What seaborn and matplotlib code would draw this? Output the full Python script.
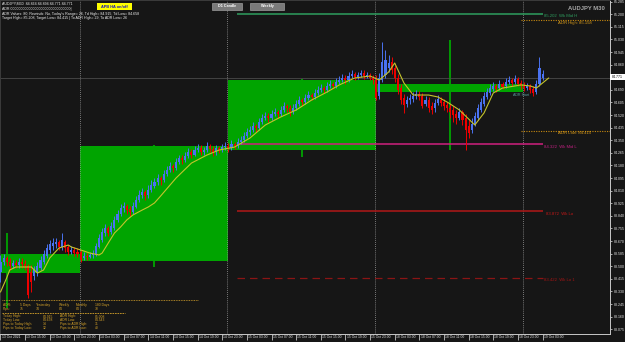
import numpy as np
import pandas as pd
import matplotlib
matplotlib.use("Agg")
import matplotlib.pyplot as plt
from matplotlib.patches import Rectangle
from matplotlib.transforms import ScaledTranslation
import seaborn as sns

# ---------------- data (AUDJPY M30, bar index 0 = 13 Oct 11:00) ----------------
bar_open = [
    83.461, 83.529, 83.556, 83.529, 83.502, 83.522, 83.508, 83.529, 83.515, 83.502,
    83.461, 83.434, 83.461, 83.488, 83.529, 83.569, 83.610, 83.636, 83.650, 83.663,
    83.630, 83.663, 83.630, 83.596, 83.610, 83.596, 83.596, 83.556, 83.569, 83.562,
    83.576, 83.576, 83.630, 83.677, 83.724, 83.758, 83.731, 83.758, 83.812, 83.852,
    83.893, 83.906, 83.886, 83.866, 83.900, 83.947, 83.981, 84.001, 83.981, 84.014,
    84.041, 84.068, 84.095, 84.082, 84.122, 84.149, 84.176, 84.163, 84.203, 84.230,
    84.217, 84.244, 84.271, 84.250, 84.284, 84.298, 84.271, 84.284, 84.311, 84.291,
    84.271, 84.298, 84.284, 84.304, 84.311, 84.298, 84.325, 84.311, 84.338, 84.352,
    84.379, 84.406, 84.419, 84.446, 84.433, 84.473, 84.500, 84.513, 84.500, 84.527,
    84.540, 84.527, 84.554, 84.581, 84.567, 84.540, 84.567, 84.594, 84.621, 84.608,
    84.635, 84.655, 84.642, 84.669, 84.689, 84.702, 84.689, 84.716, 84.729, 84.716,
    84.743, 84.756, 84.770, 84.756, 84.783, 84.797, 84.777, 84.790, 84.804, 84.783,
    84.790, 84.770, 84.756, 84.648, 84.756, 84.790, 84.837, 84.878, 84.837, 84.770,
    84.702, 84.635, 84.594, 84.621, 84.628, 84.648, 84.662, 84.648, 84.594, 84.621,
    84.581, 84.567, 84.601, 84.621, 84.608, 84.588, 84.567, 84.554, 84.527, 84.500,
    84.540, 84.500, 84.446, 84.419, 84.459, 84.500, 84.554, 84.594, 84.642, 84.669,
    84.696, 84.716, 84.702, 84.729, 84.716, 84.743, 84.756, 84.743, 84.763, 84.736,
    84.716, 84.702, 84.716, 84.696, 84.675, 84.729, 84.770]
bar_close = [
    83.529, 83.556, 83.529, 83.502, 83.522, 83.508, 83.529, 83.515, 83.502, 83.306,
    83.394, 83.475, 83.502, 83.542, 83.583, 83.623, 83.650, 83.657, 83.663, 83.630,
    83.677, 83.623, 83.596, 83.610, 83.589, 83.583, 83.542, 83.569, 83.562, 83.576,
    83.583, 83.636, 83.690, 83.731, 83.758, 83.724, 83.771, 83.812, 83.852, 83.893,
    83.906, 83.879, 83.866, 83.906, 83.947, 83.981, 84.001, 83.974, 84.014, 84.048,
    84.068, 84.095, 84.082, 84.122, 84.149, 84.176, 84.163, 84.203, 84.230, 84.217,
    84.244, 84.271, 84.250, 84.284, 84.298, 84.271, 84.284, 84.311, 84.291, 84.264,
    84.298, 84.284, 84.304, 84.311, 84.298, 84.325, 84.311, 84.338, 84.352, 84.379,
    84.406, 84.419, 84.446, 84.433, 84.473, 84.500, 84.513, 84.500, 84.527, 84.540,
    84.527, 84.554, 84.581, 84.567, 84.540, 84.567, 84.594, 84.621, 84.608, 84.635,
    84.655, 84.642, 84.669, 84.689, 84.702, 84.689, 84.716, 84.729, 84.716, 84.743,
    84.756, 84.770, 84.756, 84.783, 84.797, 84.777, 84.790, 84.804, 84.783, 84.790,
    84.770, 84.756, 84.635, 84.770, 84.878, 84.891, 84.871, 84.824, 84.770, 84.689,
    84.621, 84.588, 84.621, 84.635, 84.648, 84.662, 84.642, 84.581, 84.621, 84.567,
    84.554, 84.601, 84.628, 84.601, 84.581, 84.567, 84.540, 84.520, 84.500, 84.540,
    84.486, 84.419, 84.399, 84.459, 84.513, 84.567, 84.608, 84.648, 84.675, 84.702,
    84.716, 84.696, 84.729, 84.709, 84.743, 84.756, 84.736, 84.763, 84.729, 84.716,
    84.702, 84.716, 84.689, 84.669, 84.729, 84.837, 84.797]
bar_high = [
    83.576, 83.583, 83.569, 83.556, 83.542, 83.542, 83.556, 83.556, 83.542, 83.515,
    83.508, 83.502, 83.529, 83.569, 83.610, 83.650, 83.677, 83.690, 83.690, 83.677,
    83.724, 83.677, 83.643, 83.636, 83.630, 83.623, 83.610, 83.596, 83.589, 83.596,
    83.610, 83.657, 83.717, 83.758, 83.785, 83.771, 83.798, 83.839, 83.879, 83.920,
    83.933, 83.920, 83.906, 83.933, 83.974, 84.014, 84.028, 84.014, 84.048, 84.082,
    84.095, 84.122, 84.109, 84.149, 84.176, 84.203, 84.190, 84.230, 84.250, 84.250,
    84.271, 84.298, 84.291, 84.311, 84.325, 84.318, 84.304, 84.338, 84.325, 84.311,
    84.318, 84.311, 84.325, 84.338, 84.331, 84.352, 84.338, 84.365, 84.379, 84.406,
    84.433, 84.446, 84.473, 84.459, 84.500, 84.527, 84.540, 84.534, 84.554, 84.567,
    84.554, 84.581, 84.608, 84.594, 84.588, 84.594, 84.621, 84.648, 84.635, 84.662,
    84.682, 84.669, 84.696, 84.716, 84.729, 84.716, 84.743, 84.756, 84.743, 84.770,
    84.783, 84.797, 84.790, 84.810, 84.824, 84.810, 84.810, 84.824, 84.824, 84.810,
    84.804, 84.790, 84.790, 84.804, 85.013, 84.959, 84.925, 84.912, 84.858, 84.797,
    84.729, 84.662, 84.648, 84.662, 84.675, 84.689, 84.682, 84.669, 84.648, 84.642,
    84.608, 84.628, 84.655, 84.642, 84.628, 84.608, 84.594, 84.581, 84.554, 84.567,
    84.554, 84.527, 84.486, 84.500, 84.540, 84.594, 84.635, 84.675, 84.702, 84.729,
    84.743, 84.729, 84.756, 84.743, 84.770, 84.783, 84.770, 84.790, 84.777, 84.756,
    84.743, 84.736, 84.729, 84.716, 84.756, 84.912, 84.824]
bar_low = [
    83.394, 83.508, 83.502, 83.475, 83.488, 83.488, 83.488, 83.488, 83.475, 83.286,
    83.326, 83.407, 83.434, 83.475, 83.515, 83.556, 83.589, 83.610, 83.623, 83.610,
    83.610, 83.596, 83.576, 83.583, 83.569, 83.562, 83.529, 83.542, 83.542, 83.556,
    83.556, 83.569, 83.623, 83.663, 83.704, 83.704, 83.717, 83.744, 83.798, 83.839,
    83.866, 83.852, 83.839, 83.852, 83.893, 83.933, 83.960, 83.947, 83.960, 84.001,
    84.028, 84.048, 84.048, 84.068, 84.109, 84.136, 84.136, 84.149, 84.190, 84.190,
    84.203, 84.230, 84.230, 84.244, 84.271, 84.250, 84.250, 84.271, 84.271, 84.244,
    84.250, 84.264, 84.271, 84.284, 84.271, 84.284, 84.291, 84.298, 84.325, 84.338,
    84.365, 84.385, 84.406, 84.406, 84.419, 84.459, 84.486, 84.473, 84.486, 84.513,
    84.500, 84.513, 84.540, 84.540, 84.513, 84.527, 84.554, 84.581, 84.581, 84.594,
    84.621, 84.621, 84.628, 84.655, 84.675, 84.669, 84.675, 84.702, 84.696, 84.702,
    84.729, 84.743, 84.729, 84.743, 84.770, 84.756, 84.763, 84.777, 84.763, 84.770,
    84.756, 84.729, 84.621, 84.628, 84.743, 84.770, 84.810, 84.797, 84.743, 84.662,
    84.594, 84.534, 84.574, 84.594, 84.608, 84.628, 84.621, 84.567, 84.581, 84.540,
    84.527, 84.540, 84.588, 84.581, 84.554, 84.540, 84.500, 84.473, 84.459, 84.486,
    84.453, 84.284, 84.365, 84.399, 84.446, 84.486, 84.540, 84.581, 84.628, 84.655,
    84.682, 84.675, 84.689, 84.696, 84.702, 84.729, 84.716, 84.729, 84.716, 84.696,
    84.682, 84.689, 84.669, 84.648, 84.662, 84.716, 84.756]

# smoothed moving average (yellow), read at selected bars
ma_bar = [0, 2, 3, 5, 10, 12, 14, 16, 19, 22, 23, 26, 29, 32, 33, 35, 37, 39, 41, 43,
          46, 48, 50, 52, 57, 62, 67, 71, 76, 81, 86, 91, 96, 101, 106, 110, 115, 120,
          123, 126, 128, 131, 134, 139, 142, 145, 149, 154, 157, 160, 163, 169, 172, 174, 178]
ma_val = [83.326, 83.421, 83.475, 83.495, 83.495, 83.454, 83.475, 83.556, 83.623, 83.643,
          83.630, 83.610, 83.589, 83.576, 83.589, 83.657, 83.724, 83.765, 83.812, 83.846,
          83.879, 83.900, 83.927, 83.974, 84.095, 84.196, 84.250, 84.284, 84.304, 84.365,
          84.453, 84.507, 84.554, 84.621, 84.675, 84.723, 84.770, 84.783, 84.756, 84.810,
          84.871, 84.736, 84.655, 84.655, 84.642, 84.608, 84.554, 84.453, 84.534, 84.669,
          84.702, 84.723, 84.716, 84.702, 84.770]

# daily (D1) candles drawn as green boxes
d1_start = [-22, 26, 74, 122]
d1_open = [83.454, 83.535, 84.284, 84.729]
d1_close = [83.583, 84.311, 84.756, 84.675]
d1_high = [83.724, 84.318, 84.763, 85.026]
d1_low = [83.218, 83.495, 84.237, 84.284]
day_sep = [26, 74, 122, 170]

# levels
wk_mid_h = 85.202
wk_mid_l = 84.322
wk_lo = 83.872
wk_lo1 = 83.422
adr_high = 85.158
adr_low = 84.415
bid = 84.771

y_ticks = [85.285, 85.200, 85.115, 85.030, 84.945, 84.860, 84.775, 84.690, 84.605,
           84.520, 84.435, 84.350, 84.265, 84.180, 84.095, 84.010, 83.925, 83.840,
           83.755, 83.670, 83.585, 83.500, 83.415, 83.330, 83.245, 83.160, 83.075]
x_tick_bars = [0, 8, 16, 24, 32, 40, 48, 56, 64, 72, 80, 88, 96, 104, 112, 120,
               128, 136, 144, 152, 160, 168, 176]
x_tick_labels = ["13 Oct 2021", "13 Oct 15:00", "13 Oct 19:00", "13 Oct 23:00",
                 "14 Oct 03:00", "14 Oct 07:00", "14 Oct 11:00", "14 Oct 15:00",
                 "14 Oct 19:00", "14 Oct 23:00", "15 Oct 03:00", "15 Oct 07:00",
                 "15 Oct 11:00", "15 Oct 15:00", "15 Oct 19:00", "15 Oct 23:00",
                 "18 Oct 03:00", "18 Oct 07:00", "18 Oct 11:00", "18 Oct 15:00",
                 "18 Oct 19:00", "18 Oct 23:00", "19 Oct 03:00"]

# ---------------- styling ----------------
BG = "#161616"
sns.set_theme(style="dark", rc={"axes.facecolor": BG, "figure.facecolor": BG,
                                "axes.grid": False})
plt.rcParams["font.family"] = ["Liberation Sans", "DejaVu Sans"]

W, H = 625, 342
fig = plt.figure(figsize=(W / 100, H / 100), dpi=100)
ax = fig.add_axes([0, (H - 334) / H, 610 / W, 334 / H])
ax.set_facecolor(BG)
ax.set_xlim(-0.16, 197.9)
ax.set_ylim(83.043, 85.296)


def bx(px):
    return (px - 0.5) / 3.08


def fx(px):
    return px / W


def fy(py):
    return 1 - py / H


def fig_rect(x, y, w, h, fc, ec="none", lw=0.0, z=5):
    fig.add_artist(Rectangle((fx(x), fy(y + h)), w / W, h / H, transform=fig.transFigure,
                             facecolor=fc, edgecolor=ec, linewidth=lw, zorder=z))


# D1 green boxes and wicks
GREEN = "#00a400"
for s, o, c, hi, lo in zip(d1_start, d1_open, d1_close, d1_high, d1_low):
    ax.bar(s - 0.2 + 24, abs(c - o), bottom=min(o, c), width=48, color=GREEN,
           linewidth=0, zorder=1)
    ax.vlines(s + 24, lo, hi, color=GREEN, lw=1.3, zorder=1)

# day separators
for d in day_sep:
    ax.axvline(d - 0.3, color="#9a9a9a", lw=0.6, ls=(0, (1, 1.5)), zorder=2)

# bid line
ax.axhline(bid, color="#4a4a4a", lw=0.6, zorder=1.5)

# weekly levels
ax.hlines(wk_mid_h, bx(237), bx(543), color="#2e9e5e", lw=1.1, zorder=2)
ax.hlines(wk_mid_l, bx(237), bx(543), color="#d0207f", lw=1.1, zorder=2)
ax.hlines(wk_lo, bx(237), bx(543), color="#b01818", lw=1.1, zorder=2)
ax.hlines(wk_lo1, bx(237), bx(543), color="#8a1515", lw=0.9, ls=(0, (6, 4)), zorder=2)
ax.hlines([adr_high, adr_low], bx(521), bx(610), color="#c88a10", lw=0.8,
          ls=(0, (1, 1.2)), zorder=2)

# candles
idx = np.arange(len(bar_open))
o = np.array(bar_open); c = np.array(bar_close)
cols = np.where(c >= o, "#4a72f0", "#ee0000")
ax.vlines(idx, bar_low, bar_high, colors=cols, lw=0.7, zorder=3)
ax.bar(idx, np.maximum(np.abs(c - o), 0.004), bottom=np.minimum(o, c), width=0.68,
       color=cols, linewidth=0, zorder=3)

# moving average
ma_df = pd.DataFrame({"bar": ma_bar, "ma": ma_val})
sns.lineplot(data=ma_df, x="bar", y="ma", ax=ax, color="#c4c42c", lw=0.8, zorder=4,
             sort=False, estimator=None)

# axes formatting
ax.set_xlabel(""); ax.set_ylabel("")
ax.yaxis.tick_right()
ax.set_yticks(y_ticks)
# the 84.775 label sits under the bid price box, as in the terminal
ax.set_yticklabels([f"{v:.3f}" if abs(v - bid) > 0.02 else "" for v in y_ticks])
ax.set_xticks(x_tick_bars)
ax.set_xticklabels(x_tick_labels, ha="left", va="top")
ax.tick_params(axis="y", colors="#e8e8e8", labelsize=2.5, length=1.6, width=0.5,
               pad=1, direction="out", right=True, left=False)
ax.tick_params(axis="x", colors="#e8e8e8", labelsize=2.4, length=4.0, width=0.5,
               pad=-3.6, direction="out", bottom=True)
shift = ScaledTranslation(1.2 / 100, 0, fig.dpi_scale_trans)
for lab in ax.get_xticklabels():
    lab.set_transform(lab.get_transform() + shift)
for side in ["right", "bottom"]:
    ax.spines[side].set_color("#c8c8c8"); ax.spines[side].set_linewidth(0.7)
for side in ["left", "top"]:
    ax.spines[side].set_color("#3c3c3c"); ax.spines[side].set_linewidth(0.7)


# level labels
def lvl_text(px, price, s, color, size=3.1):
    ax.annotate(s, xy=(bx(px), price), xytext=(0, -2.5), textcoords="offset pixels",
                color=color, fontsize=size, va="center", ha="left", zorder=6)


lvl_text(544, wk_mid_h, f"{wk_mid_h:.3f}  Wk Mid H", "#2e9e5e")
lvl_text(558, adr_high, f"ADR High: {adr_high:.3f}", "#d89a18")
lvl_text(558, adr_low, f"ADR Low: {adr_low:.3f}", "#d89a18")
lvl_text(544, wk_mid_l, f"{wk_mid_l:.3f}  Wk Mid L", "#c02080")
lvl_text(546, wk_lo, f"{wk_lo:.3f}  Wk Lo", "#c01818")
lvl_text(544, wk_lo1, f"{wk_lo1:.3f}  Wk Lo 1", "#a01515")
ax.text(bx(513), 84.655, "ADR Start", color="#5aa0a0", fontsize=2.6, va="center",
        ha="left", zorder=6)

# bid price box on the axis
fig_rect(610, 74.4, 15, 5.6, "white", z=10)
fig.text(fx(612), fy(77.2), f"{bid:.3f}", color="black", fontsize=2.5, va="center",
         ha="left", zorder=11)

# header info texts
hdr = ["AUDJPY,M30  84.864 84.894 84.771 84.771",
       "ADR 000000000000000000000000000000|",
       "ADR Values: 80, Rewinds: No, Today's Range= 26, Td High= 84.915, Td Low= 84.658",
       "Target High= 85.208, Target Low= 84.415 | To ADR High= 29, To ADR Low= 26"]
for k, s in enumerate(hdr):
    fig.text(fx(2), fy(4 + 4.8 * k), s, color="#f0f0f0", fontsize=2.6, va="center",
             ha="left", zorder=8)

# buttons
fig_rect(97, 3, 35, 7, "#ffff00", z=8)
fig.text(fx(114.5), fy(6.5), "APB HA on/off", color="#1010c0", fontsize=2.8,
         fontweight="bold", ha="center", va="center", zorder=9)
fig_rect(212, 3, 30, 6.5, "#7a7a7a", ec="#b0b0b0", lw=0.4, z=8)
fig.text(fx(227), fy(6.2), "D1 Candle", color="white", fontsize=2.7, fontweight="bold",
         ha="center", va="center", zorder=9)
fig_rect(250, 3, 34, 6.5, "#7a7a7a", ec="#b0b0b0", lw=0.4, z=8)
fig.text(fx(267), fy(6.2), "Weekly", color="white", fontsize=2.7, fontweight="bold",
         ha="center", va="center", zorder=9)
fig.text(fx(605), fy(9), "AUDJPY M30", color="#a8a8a8", fontsize=4.2,
         fontweight="bold", ha="right", va="center", zorder=9)

# bottom-left ADR table
GOLD = "#d6a32a"
fig.add_artist(plt.Line2D([fx(2), fx(198)], [fy(300), fy(300)], transform=fig.transFigure,
                          color=GOLD, lw=0.6, ls=(0, (1, 1)), zorder=8))
fig.add_artist(plt.Line2D([fx(2), fx(125)], [fy(313), fy(313)], transform=fig.transFigure,
                          color=GOLD, lw=0.6, ls=(0, (2, 1)), zorder=8))
adr_cols = ["ADR:", "5 Days", "Yesterday", "Weekly", "Monthly", "180 Days"]
adr_pips = ["Pips:", "75", "74", "84", "84", "70"]
col_x = [3, 20, 36, 59, 76, 95]
for s, s2, xx in zip(adr_cols, adr_pips, col_x):
    fig.text(fx(xx), fy(305), s, color=GOLD, fontsize=2.4, va="center", ha="left", zorder=9)
    fig.text(fx(xx), fy(309.3), s2, color=GOLD, fontsize=2.4, va="center", ha="left", zorder=9)
rows = [("Today High:", "84.915", "ADR High:", "85.008"),
        ("Today Low:", "84.658", "ADR Low:", "84.543"),
        ("Pips to Today High:", "14", "Pips to ADR High:", "31"),
        ("Pips to Today Low:", "12", "Pips to ADR Low:", "40")]
for k, r in enumerate(rows):
    yy = 316.5 + 3.8 * k
    for s, xx in zip(r, [3, 43, 60, 95]):
        fig.text(fx(xx), fy(yy), s, color=GOLD, fontsize=2.4, va="center", ha="left",
                 zorder=9)

fig.savefig("out.png", dpi=100, facecolor=BG)
